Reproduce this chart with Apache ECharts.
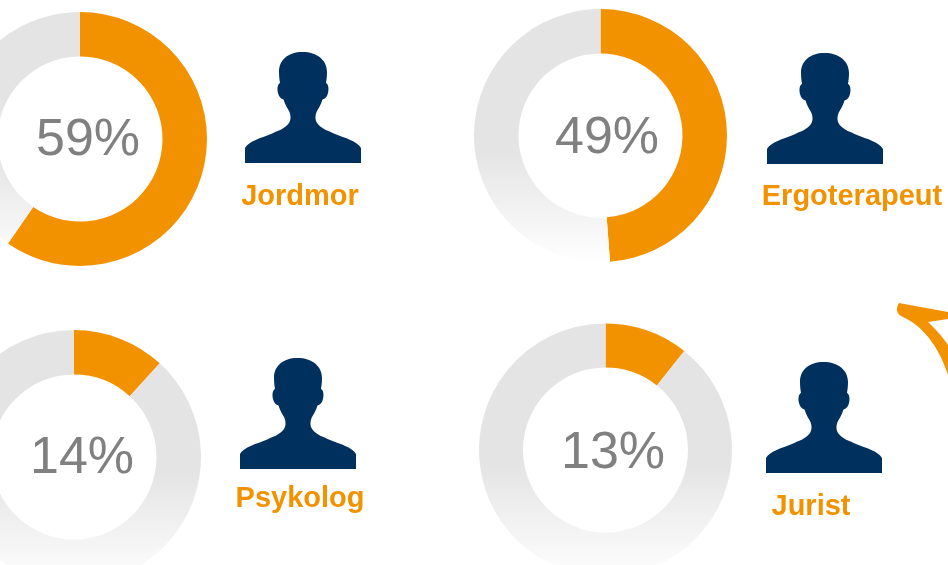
<!DOCTYPE html>
<html><head><meta charset="utf-8">
<style>html,body{margin:0;padding:0;background:#fff}#c{width:948px;height:565px}</style>
<script src="https://cdn.jsdelivr.net/npm/echarts@6/dist/echarts.min.js"></script>
</head><body><div id="c"></div>
<script>
const professions = ['Jordmor', 'Ergoterapeut', 'Psykolog', 'Jurist'];
const percentLabels = ['59%', '49%', '14%', '13%'];
const arcShares = [59.6, 48.8, 11.8, 10.7];

const ORANGE = '#f39200', NAVY = '#00305e', GREY = '#808080';
const layout = [
  {c:[80,139],  r:[82.5,127], pct:[88,141],  person:[245,52],  name:[300,197]},
  {c:[600.5,135.5], r:[82,126.5], pct:[607,139], person:[767,53], name:[852,197]},
  {c:[74,457],  r:[82.5,127], pct:[82,459],  person:[240,358], name:[300,499]},
  {c:[605.5,450], r:[82.5,126.5], pct:[613,454], person:[766,362], name:[811,507]}
];
const personPath = 'M57.5 0C72 0 82 8 82 20C82 24 81.5 28 81 31C83.5 32 84 37 83 41C82 45 80 47 77.5 47.5C76 53 73 57 71.5 60C70 64 70 68 72 71C76 77 84 79 90 82C100 86 112 89 116 96L116 111L0 111L0 96C4 89 16 86 26 82C32 79 40 77 44 71C46 68 46 64 44.5 60C43 57 40 53 38.5 47.5C36 47 34 45 33 41C32 37 32.5 32 35 31C34.5 28 34 24 34 20C34 8 43 0 57.5 0Z';
const arrowPath = 'M899 303L948 312L948 319L928 322C936 330 943 337 948 345L948 375C941 353 927 328 903 317C897 315 895 309 899 303Z';

const series = layout.map((g, i) => ({
  type: 'pie', center: g.c, radius: g.r, startAngle: 90, clockwise: true,
  silent: true, animation: false, label: {show:false}, labelLine: {show:false},
  emphasis: {disabled:true},
  data: [
    {value: arcShares[i], itemStyle: {color: ORANGE}},
    {value: 100 - arcShares[i], itemStyle: {color: {
      type:'linear', global:true, x:0, y:g.c[1]+15, x2:0, y2:g.c[1]+g.r[1]+2,
      colorStops:[{offset:0,color:'#e4e4e4'},{offset:1,color:'#ffffff'}]
    }}}
  ]
}));

series.push({
  type:'custom', coordinateSystem:'none', silent:true, animation:false, data:[[0]],
  renderItem: () => ({type:'group', children: [
    ...layout.map(g => ({type:'path', x:g.person[0], y:g.person[1],
      shape:{pathData:personPath}, style:{fill:NAVY}})),
    {type:'path', shape:{pathData:arrowPath}, style:{fill:ORANGE}}
  ]})
});

const graphic = [];
layout.forEach((g, i) => {
  graphic.push({type:'text', x:g.pct[0], y:g.pct[1], silent:true, style:{
    text: percentLabels[i], fill: GREY, font: '52px "Liberation Sans", Arial, sans-serif',
    textAlign:'center', textVerticalAlign:'middle'}});
  graphic.push({type:'text', x:g.name[0], y:g.name[1], silent:true, style:{
    text: professions[i], fill: ORANGE, font: 'bold 29px "Liberation Sans", Arial, sans-serif',
    textAlign:'center', textVerticalAlign:'middle'}});
});

const chart = echarts.init(document.getElementById('c'), null, {renderer:'canvas'});
chart.setOption({backgroundColor:'#fff', animation:false, series, graphic:{elements:graphic}});
</script></body></html>
